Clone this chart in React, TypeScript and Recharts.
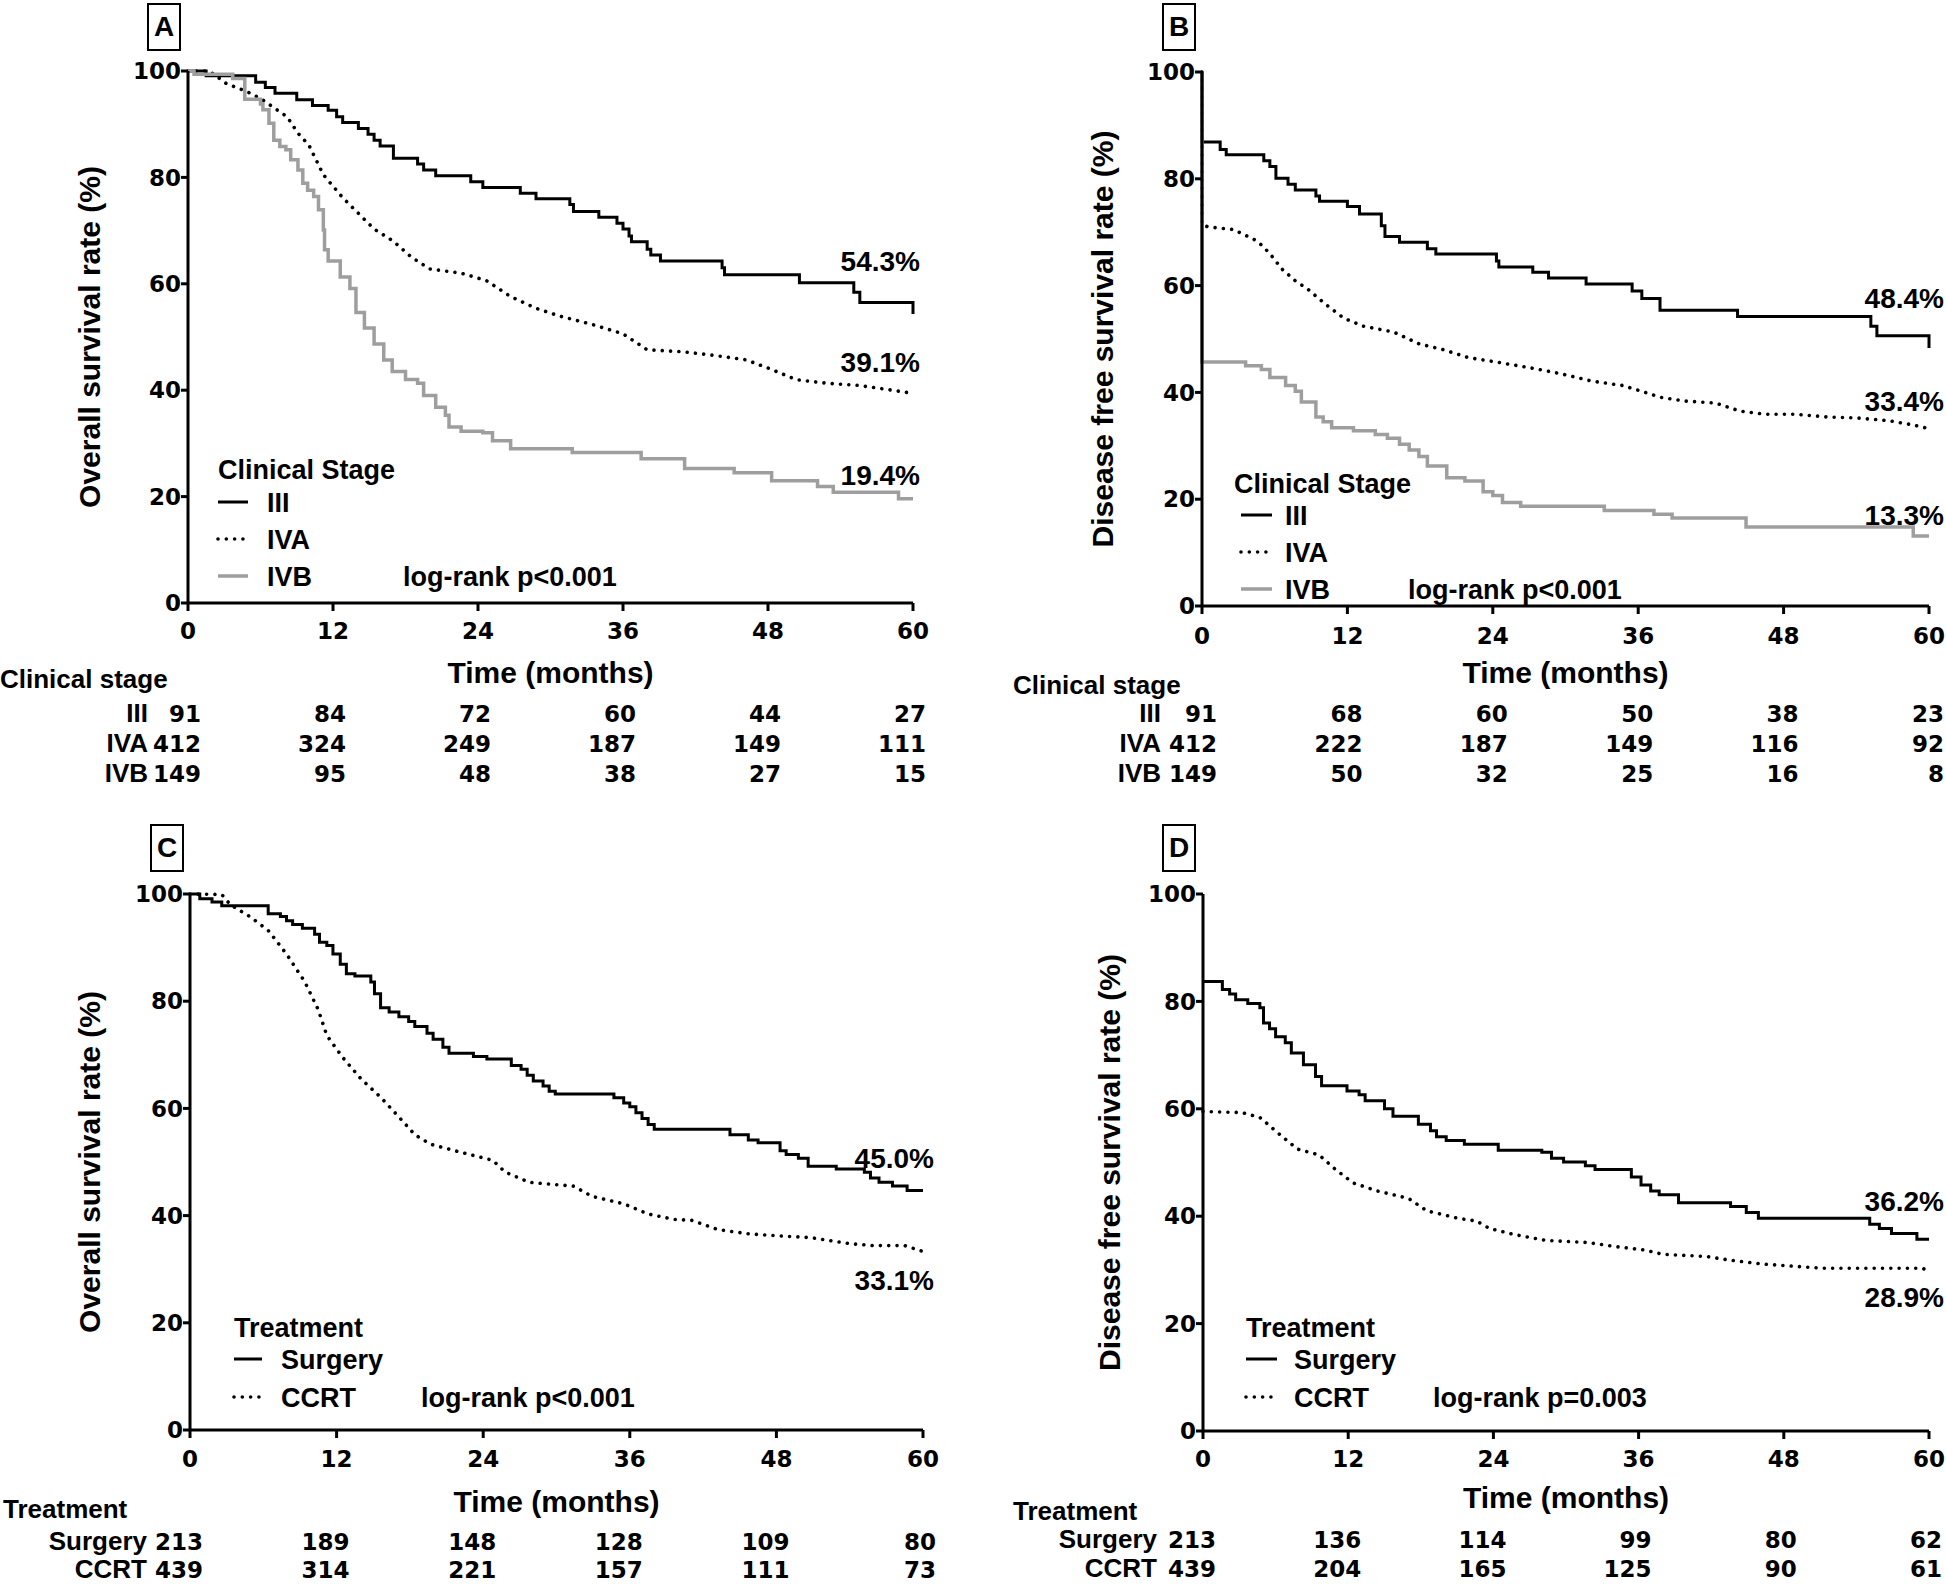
import React from "react";
import { LineChart, Line, XAxis, YAxis, ReferenceDot, Legend } from "recharts";

type Pt = [number, number];
type Kind = "solid" | "dotted" | "gray";

const months = [0, 12, 24, 36, 48, 60];
const percentTicks = [0, 20, 40, 60, 80, 100];

// A: overall survival by clinical stage (month, %)
const osStageIII: Pt[] = [
  [0, 100], [1.5, 99.1], [5.6, 97.9], [6.4, 96.9], [7.2, 95.8], [9.0, 94.6], [10.3, 93.5],
  [11.6, 92.6], [12.3, 91.4], [12.8, 90.3], [14.1, 89.2], [14.9, 88.1], [15.4, 87.0],
  [15.9, 85.9], [17.0, 83.6], [19.0, 82.5], [19.5, 81.4], [20.5, 80.3], [23.4, 79.2],
  [24.4, 78.1], [27.5, 77.0], [28.8, 76.0], [31.6, 74.9], [31.9, 73.6], [34.0, 72.5],
  [35.5, 71.4], [36.0, 70.3], [36.5, 69.0], [36.7, 67.9], [38.0, 66.5], [38.3, 65.4],
  [39.1, 64.3], [44.2, 63.0], [44.4, 61.7], [50.6, 60.2], [55.1, 58.4], [55.6, 56.5], [60, 54.3],
];
const osStageIVA: Pt[] = [
  [0, 100], [1.5, 100], [2.0, 99.6], [3.2, 97.6], [4.9, 96.1], [6.1, 94.7], [7.3, 92.8],
  [8.2, 91.4], [9.1, 88.3], [10.0, 86.1], [11.2, 80.5], [12.8, 76.2], [15.4, 70.3], [17, 68],
  [18.5, 65], [20, 62.8], [22.6, 62], [24.7, 60.6], [26.7, 57.6], [28.8, 55.4], [30.8, 53.9],
  [33.4, 52.4], [36, 50.6], [38, 47.6], [41.1, 47.2], [43.7, 46.5], [46.2, 45.7], [48.3, 43.9],
  [50.3, 42], [52.9, 41.3], [55.5, 40.9], [58, 40.1], [60, 39.4],
];
const osStageIVB: Pt[] = [
  [0, 100], [0.5, 99.4], [3.7, 98.6], [4.7, 94.7], [6.0, 93.8], [6.2, 92.7], [6.7, 90.2],
  [7.1, 87], [7.6, 85.8], [8.1, 85.2], [8.5, 83.3], [9.1, 81.4], [9.5, 78.9], [9.9, 77.6],
  [10.4, 76.4], [10.8, 73.9], [11.2, 70.1], [11.3, 66.4], [11.6, 64.3], [12.6, 61.3],
  [13.4, 59.1], [13.9, 54.6], [14.6, 51.7], [15.4, 48.7], [16.2, 45.7], [16.9, 43.5], [18, 42],
  [19, 41.3], [19.5, 39], [20.5, 36.8], [21.3, 35.3], [21.6, 33.1], [22.6, 32.3], [24.4, 32.0],
  [25.2, 30.5], [26.7, 29.0], [31.8, 28.3], [37.5, 27.1], [41.1, 25.3], [45.2, 24.5],
  [48.3, 23.0], [52.1, 21.9], [53.4, 20.8], [58.8, 19.6], [60, 19.6],
];

// B: disease free survival by clinical stage
const dfsStageIII: Pt[] = [
  [0, 100], [0, 86.9], [1.5, 85.5], [2.0, 84.5], [5.1, 83.4], [5.6, 82.3], [6.1, 80.1],
  [7.1, 79.0], [7.7, 77.9], [9.4, 76.8], [9.7, 75.8], [12.0, 74.8], [13.0, 73.4], [14.8, 71.2],
  [15.1, 69.2], [16.3, 68.1], [18.6, 66.9], [19.3, 65.9], [24.3, 64.6], [24.5, 63.5],
  [27.3, 62.5], [28.6, 61.4], [31.7, 60.3], [35.5, 59.0], [36.3, 57.6], [37.8, 55.4],
  [44.2, 54.2], [55.2, 52.4], [55.7, 50.6], [60, 48.3],
];
const dfsStageIVA: Pt[] = [
  [0, 100], [0, 71.4], [0.5, 71.0], [2.6, 70.5], [4.6, 68.3], [5.6, 66], [6.6, 63.1],
  [7.7, 60.9], [8.7, 59.4], [10.2, 56.5], [11.7, 53.9], [13.3, 52.4], [15.8, 51.3],
  [17.9, 49.1], [19.9, 48.0], [22, 46.5], [24, 45.8], [27.1, 44.6], [29.6, 43.5], [32.2, 42.1],
  [34.7, 41.3], [36.3, 40.2], [37.8, 39.1], [39.8, 38.4], [42.4, 38.0], [44.4, 36.5],
  [46.5, 35.9], [49, 35.9], [51.6, 35.4], [54.1, 35.2], [56.7, 34.7], [58.7, 33.9], [60, 33.2],
];
const dfsStageIVB: Pt[] = [
  [0, 100], [0, 45.7], [3.6, 45.0], [4.9, 44.3], [5.6, 42.8], [6.9, 41.3], [7.7, 40.2],
  [8.2, 38.2], [9.4, 35.4], [10.0, 34.5], [10.7, 33.4], [12.5, 32.8], [14.3, 32.1],
  [15.3, 31.4], [16.3, 30.3], [17.1, 29.2], [17.9, 28.0], [18.6, 26.2], [20.2, 24.0],
  [21.7, 23.4], [23.2, 21.4], [24.0, 20.7], [24.8, 19.4], [26.3, 18.7], [33.2, 17.9],
  [37.3, 17.2], [38.8, 16.5], [44.9, 14.8], [58.7, 13.1], [60, 13.1],
];

// C: overall survival by treatment
const osSurgery: Pt[] = [
  [0, 100], [0.8, 99.1], [1.8, 98.5], [2.6, 97.8], [6.4, 96.3], [7.4, 95.8], [7.9, 95.0],
  [8.4, 94.3], [9.2, 93.6], [10.2, 92.5], [10.6, 91.0], [11.2, 90.4], [11.7, 88.8],
  [12.3, 86.9], [12.8, 85.1], [13.5, 84.7], [14.8, 83.6], [15.1, 81.4], [15.6, 78.8],
  [16.3, 78.0], [17.1, 77.1], [17.9, 76.2], [18.4, 75.3], [19.4, 74.0], [19.9, 72.9],
  [20.7, 71.4], [21.2, 70.3], [23.2, 69.7], [24.3, 69.2], [26.3, 68.0], [27.1, 67.3],
  [27.6, 66.2], [28.1, 65.1], [28.9, 64.2], [29.4, 63.2], [29.9, 62.7], [34.7, 62.0],
  [35.5, 61.0], [36.0, 60.3], [36.5, 59.2], [37.0, 58.1], [37.5, 57.0], [38.0, 56.1],
  [44.2, 55.1], [45.7, 54.1], [46.5, 53.6], [48.3, 52.1], [48.8, 51.4], [49.8, 50.7],
  [50.6, 49.2], [52.9, 48.7], [55.2, 48.1], [55.7, 47.0], [56.4, 46.2], [57.5, 45.5],
  [58.7, 44.7], [60, 44.7],
];
const osCcrt: Pt[] = [
  [0, 100], [2.6, 99.9], [3.3, 98], [4.9, 95.8], [6.4, 93.2], [7.9, 88.8], [9.4, 83.6],
  [10.5, 78.4], [11.2, 73.6], [12.5, 69.5], [14, 65.5], [15.6, 62.1], [17.1, 58.4],
  [18.4, 55.1], [19.7, 53.3], [22.2, 51.8], [24.8, 50.3], [25.8, 48.1], [27.8, 46.2],
  [31.4, 45.5], [32.9, 43.6], [35.5, 42.2], [37.5, 40.3], [39.6, 39.3], [41.1, 39.1],
  [43.2, 37.4], [45.7, 36.6], [48.3, 36.2], [50.8, 35.9], [53.9, 34.8], [55.9, 34.4],
  [58.5, 34.4], [60, 33.3],
];

// D: disease free survival by treatment
const dfsSurgery: Pt[] = [
  [0, 83.7], [1.6, 82.2], [2.2, 81.4], [2.7, 80.3], [3.7, 79.6], [4.7, 78.8],
  [5.0, 76.0], [5.5, 74.9], [6.0, 73.4], [6.8, 72.3], [7.3, 70.4], [8.3, 68.2], [9.3, 66.0],
  [9.8, 64.3], [11.9, 63.3], [12.9, 62.6], [13.4, 61.5], [15.0, 60.0], [15.7, 58.6],
  [17.8, 57.1], [18.8, 55.9], [19.3, 54.8], [20.1, 54.1], [21.6, 53.4], [24.4, 52.3],
  [28.0, 51.9], [28.8, 50.8], [29.8, 50.1], [31.6, 49.4], [32.4, 48.7], [35.4, 47.3],
  [36.2, 45.8], [37.0, 44.7], [37.7, 44.0], [39.3, 42.5], [43.6, 41.8], [44.9, 40.7],
  [45.9, 39.6], [55.1, 38.5], [55.9, 37.7], [56.9, 36.8], [59.0, 35.7], [60, 35.7],
];
const dfsCcrt: Pt[] = [
  [0, 59.5], [3.2, 59.3], [4.7, 58.4], [6.2, 55.5], [7.8, 52.5], [9.6, 51.4],
  [10.9, 48.8], [12.4, 46.2], [14.4, 44.7], [17.0, 43.3], [18.5, 41.0], [21.1, 39.6],
  [22.6, 39.1], [23.7, 37.7], [25.7, 36.6], [28.3, 35.5], [31.8, 35.1], [33.9, 34.4],
  [36.5, 33.7], [38, 32.9], [41.6, 32.5], [43.6, 31.8], [46.2, 31.1], [48.7, 30.7],
  [51.3, 30.3], [59.5, 30.3], [60, 29.6],
];

// numbers at risk at each of the month ticks
const riskOsIII = [91, 84, 72, 60, 44, 27];
const riskOsIVA = [412, 324, 249, 187, 149, 111];
const riskOsIVB = [149, 95, 48, 38, 27, 15];
const riskDfsIII = [91, 68, 60, 50, 38, 23];
const riskDfsIVA = [412, 222, 187, 149, 116, 92];
const riskDfsIVB = [149, 50, 32, 25, 16, 8];
const riskOsSurgery = [213, 189, 148, 128, 109, 80];
const riskOsCcrt = [439, 314, 221, 157, 111, 73];
const riskDfsSurgery = [213, 136, 114, 99, 80, 62];
const riskDfsCcrt = [439, 204, 165, 125, 90, 61];

// survival at 60 months, shown at the curve ends
const finalOsStage = ["54.3%", "39.1%", "19.4%"];
const finalDfsStage = ["48.4%", "33.4%", "13.3%"];
const finalOsTreat = ["45.0%", "33.1%"];
const finalDfsTreat = ["36.2%", "28.9%"];

const TXT = "'Liberation Sans', Arial, Helvetica, sans-serif";
const NUM = "'DejaVu Sans', 'Liberation Sans', sans-serif";
const Y_W = 70;
const X_H = 40;

interface Series { name: string; points: Pt[]; kind: Kind }
interface RiskRow { label: string; counts: number[] }
interface PanelCfg {
  letter: string;
  left: number; top: number; width: number; height: number;
  margin: { top: number; right: number; bottom: number; left: number };
  box: [number, number];
  yTitle: string;
  series: Series[];
  legendTitle: string;
  legendPos: [number, number];
  legendRows: number[];
  legLine: [number, number];
  legText: number;
  logX: number;
  logrank: string;
  finals: { text: string; v: number }[];
  finalDx: number;
  riskTitle: string;
  risk: RiskRow[];
  tickBase: number; timeBase: number; headerBase: number; headerX: number;
  rowBase: number[]; labelDx: number; numDx: number; yTitleX: number;
}

const lineStyle = (kind: Kind) => {
  if (kind === "dotted") return { stroke: "#000", strokeWidth: 3.6, strokeDasharray: "0.01 8.3", strokeLinecap: "round" as const };
  if (kind === "gray") return { stroke: "#9e9e9e", strokeWidth: 3.5 };
  return { stroke: "#000", strokeWidth: 3 };
};

const toRows = (pts: Pt[]) => pts.map(([t, s]) => ({ t, s }));

const panels: PanelCfg[] = [
  {
    letter: "A", left: 0, top: 0, width: 973, height: 810,
    margin: { top: 71, right: 60, bottom: 167, left: 118 }, box: [147, 3],
    yTitle: "Overall survival rate (%)",
    series: [
      { name: "III", points: osStageIII, kind: "solid" },
      { name: "IVA", points: osStageIVA, kind: "dotted" },
      { name: "IVB", points: osStageIVB, kind: "gray" },
    ],
    legendTitle: "Clinical Stage", legendPos: [218, 450], legendRows: [62, 99, 136],
    legLine: [0, 30], legText: 49, logX: 185, logrank: "log-rank p<0.001",
    finals: [{ text: finalOsStage[0], v: 62.4 }, { text: finalOsStage[1], v: 43.4 }, { text: finalOsStage[2], v: 22.2 }],
    finalDx: 7,
    riskTitle: "Clinical stage",
    risk: [{ label: "III", counts: riskOsIII }, { label: "IVA", counts: riskOsIVA }, { label: "IVB", counts: riskOsIVB }],
    tickBase: 639, timeBase: 683, headerBase: 688, headerX: 0, rowBase: [722, 752, 782],
    labelDx: 40, numDx: 13, yTitleX: 89,
  },
  {
    letter: "B", left: 973, top: 0, width: 973, height: 810,
    margin: { top: 72, right: 17, bottom: 164, left: 159 }, box: [189, 3],
    yTitle: "Disease free survival rate (%)",
    series: [
      { name: "III", points: dfsStageIII, kind: "solid" },
      { name: "IVA", points: dfsStageIVA, kind: "dotted" },
      { name: "IVB", points: dfsStageIVB, kind: "gray" },
    ],
    legendTitle: "Clinical Stage", legendPos: [261, 464], legendRows: [61, 98, 135],
    legLine: [7, 38], legText: 51, logX: 174, logrank: "log-rank p<0.001",
    finals: [{ text: finalDfsStage[0], v: 55.8 }, { text: finalDfsStage[1], v: 36.5 }, { text: finalDfsStage[2], v: 15.2 }],
    finalDx: 15,
    riskTitle: "Clinical stage",
    risk: [{ label: "III", counts: riskDfsIII }, { label: "IVA", counts: riskDfsIVA }, { label: "IVB", counts: riskDfsIVB }],
    tickBase: 644, timeBase: 683, headerBase: 694, headerX: 40, rowBase: [722, 752, 782],
    labelDx: 41, numDx: 15, yTitleX: 129,
  },
  {
    letter: "C", left: 0, top: 810, width: 973, height: 774,
    margin: { top: 84, right: 50, bottom: 114, left: 120 }, box: [150, 14],
    yTitle: "Overall survival rate (%)",
    series: [
      { name: "Surgery", points: osSurgery, kind: "solid" },
      { name: "CCRT", points: osCcrt, kind: "dotted" },
    ],
    legendTitle: "Treatment", legendPos: [234, 498], legendRows: [61, 99],
    legLine: [0, 28], legText: 47, logX: 187, logrank: "log-rank p<0.001",
    finals: [{ text: finalOsTreat[0], v: 48.8 }, { text: finalOsTreat[1], v: 26.1 }],
    finalDx: 11,
    riskTitle: "Treatment",
    risk: [{ label: "Surgery", counts: riskOsSurgery }, { label: "CCRT", counts: riskOsCcrt }],
    tickBase: 657, timeBase: 702, headerBase: 708, headerX: 3, rowBase: [740, 768],
    labelDx: 43, numDx: 13, yTitleX: 89,
  },
  {
    letter: "D", left: 973, top: 810, width: 973, height: 774,
    margin: { top: 84, right: 17, bottom: 113, left: 160 }, box: [189, 14],
    yTitle: "Disease free survival rate (%)",
    series: [
      { name: "Surgery", points: dfsSurgery, kind: "solid" },
      { name: "CCRT", points: dfsCcrt, kind: "dotted" },
    ],
    legendTitle: "Treatment", legendPos: [273, 498], legendRows: [61, 99],
    legLine: [0, 31], legText: 48, logX: 187, logrank: "log-rank p=0.003",
    finals: [{ text: finalDfsTreat[0], v: 40.9 }, { text: finalDfsTreat[1], v: 23.1 }],
    finalDx: 15,
    riskTitle: "Treatment",
    risk: [{ label: "Surgery", counts: riskDfsSurgery }, { label: "CCRT", counts: riskDfsCcrt }],
    tickBase: 657, timeBase: 698, headerBase: 710, headerX: 40, rowBase: [738, 767],
    labelDx: 46, numDx: 13, yTitleX: 136,
  },
];

const numFont = { fontFamily: NUM, fontSize: 23, fontWeight: 700, fill: "#000" };
const txtFont = (size: number) => ({ fontFamily: TXT, fontSize: size, fontWeight: 700, fill: "#000" });

function LegendBox({ p }: { p: PanelCfg }) {
  const last = p.legendRows[p.legendRows.length - 1];
  return (
    <svg width={460} height={150} style={{ display: "block", overflow: "visible" }}>
      <text x={0} y={29} {...txtFont(27)}>{p.legendTitle}</text>
      {p.series.map((s, k) => (
        <g key={s.name}>
          <line x1={p.legLine[0]} x2={p.legLine[1]} y1={p.legendRows[k] - 10} y2={p.legendRows[k] - 10} {...lineStyle(s.kind)} />
          <text x={p.legText} y={p.legendRows[k]} {...txtFont(27)}>{s.name}</text>
        </g>
      ))}
      <text x={p.logX} y={last} {...txtFont(27)}>{p.logrank}</text>
    </svg>
  );
}

function Panel({ p }: { p: PanelCfg }) {
  const plotLeft = p.margin.left + Y_W;
  const plotRight = p.width - p.margin.right;
  const plotBottom = p.height - p.margin.bottom - X_H;
  const midX = (plotLeft + plotRight) / 2;
  const midY = (p.margin.top + plotBottom) / 2;

  const riskTick = (props: any) => {
    const x = props.x as number;
    const v = props.payload.value as number;
    const i = months.indexOf(v);
    return (
      <g>
        <text x={x} y={p.tickBase} textAnchor="middle" {...numFont}>{v}</text>
        {p.risk.map((r, k) => (
          <text key={k} x={x + p.numDx} y={p.rowBase[k]} textAnchor="end" {...numFont}>{r.counts[i]}</text>
        ))}
        {i === 0 && (
          <g>
            <text x={p.headerX} y={p.headerBase} {...txtFont(26)}>{p.riskTitle}</text>
            {p.risk.map((r, k) => (
              <text key={"l" + k} x={x - p.labelDx} y={p.rowBase[k]} textAnchor="end" {...txtFont(26)}>{r.label}</text>
            ))}
          </g>
        )}
      </g>
    );
  };

  return (
    <div style={{ position: "absolute", left: p.left, top: p.top, width: p.width, height: p.height }}>
      <LineChart width={p.width} height={p.height} margin={p.margin}>
        <XAxis
          type="number" dataKey="t" domain={[0, 60]} ticks={months} interval={0} height={X_H}
          axisLine={{ stroke: "#000", strokeWidth: 3 }} tickLine={{ stroke: "#000", strokeWidth: 3 }}
          tickSize={8} tick={riskTick}
          label={() => (
            <text x={midX} y={p.timeBase} textAnchor="middle" {...txtFont(30)}>Time (months)</text>
          )}
        />
        <YAxis
          type="number" domain={[0, 100]} ticks={percentTicks} interval={0} width={Y_W}
          axisLine={{ stroke: "#000", strokeWidth: 3 }} tickLine={{ stroke: "#000", strokeWidth: 3 }}
          tickSize={7} tickMargin={0} tick={numFont}
          label={() => (
            <text x={p.yTitleX} y={midY} textAnchor="middle" dominantBaseline="central"
              transform={`rotate(-90 ${p.yTitleX} ${midY})`} {...txtFont(30)}>{p.yTitle}</text>
          )}
        />
        {p.series.map((s) => (
          <Line
            key={s.name} name={s.name} data={toRows(s.points)} dataKey="s"
            type={s.kind === "dotted" ? "linear" : "stepAfter"}
            dot={false} activeDot={false} isAnimationActive={false} {...lineStyle(s.kind)}
          />
        ))}
        {p.finals.map((f) => (
          <ReferenceDot
            key={f.text} x={60} y={f.v} r={0} fill="none" stroke="none" ifOverflow="visible"
            label={(lp: any) => {
              const vb = lp.viewBox || { x: 0, y: 0 };
              return <text x={vb.x + p.finalDx} y={vb.y} textAnchor="end" {...txtFont(28)}>{f.text}</text>;
            }}
          />
        ))}
        <Legend
          layout="vertical" align="center" verticalAlign="middle"
          wrapperStyle={{ left: p.legendPos[0], top: p.legendPos[1], width: 460, height: 150 }}
          content={() => <LegendBox p={p} />}
        />
      </LineChart>
      <div
        style={{
          position: "absolute", left: p.box[0], top: p.box[1], width: 34, height: 48,
          boxSizing: "border-box", border: "2px solid #000", fontFamily: TXT, fontWeight: 700,
          fontSize: 28, lineHeight: "44px", textAlign: "center", color: "#000",
        }}
      >
        {p.letter}
      </div>
    </div>
  );
}

export default function App() {
  return (
    <div style={{ position: "absolute", left: 0, top: 0, width: 1946, height: 1584, background: "#fff", overflow: "hidden" }}>
      {panels.map((p) => (
        <Panel key={p.letter} p={p} />
      ))}
    </div>
  );
}
